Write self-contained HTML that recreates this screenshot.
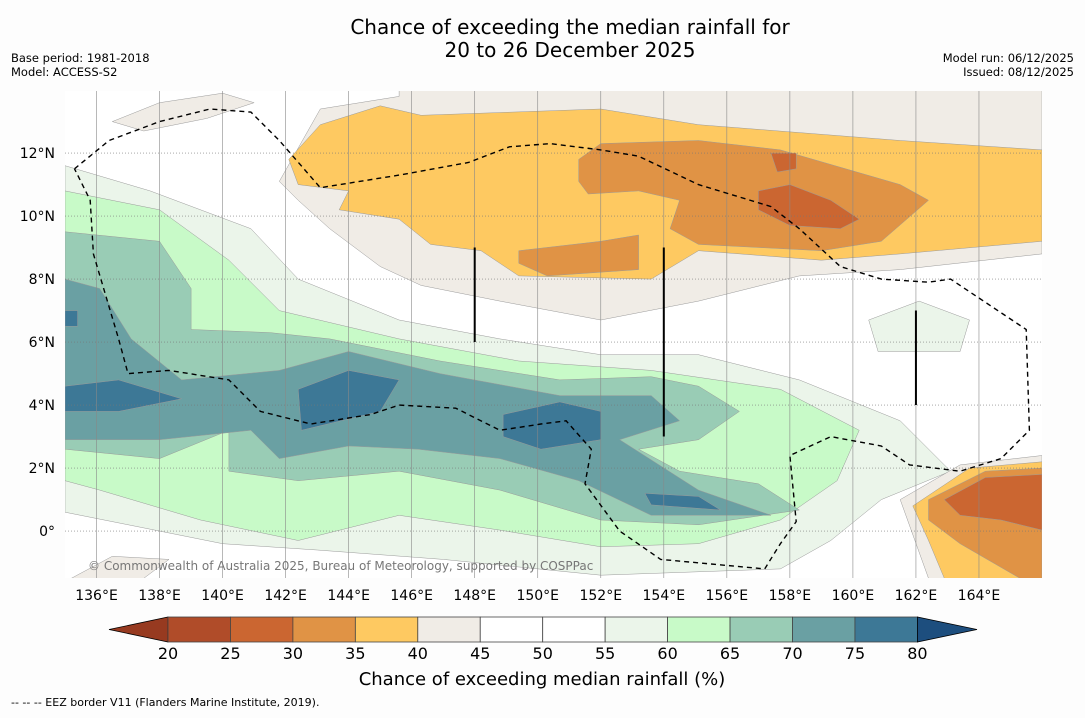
<!DOCTYPE html>
<html><head><meta charset="utf-8">
<style>
html,body{margin:0;padding:0;background:#fdfdfd;}
body{width:1085px;height:713px;overflow:hidden;font-family:"Liberation Sans","DejaVu Sans",sans-serif;}
</style></head>
<body>
<svg id="chart" width="1085" height="713" viewBox="0 0 1085 713" xmlns="http://www.w3.org/2000/svg" font-family="'DejaVu Sans','Liberation Sans',sans-serif">
<text x="570" y="34" font-size="20" text-anchor="middle" fill="#000">Chance of exceeding the median rainfall for</text>
<text x="570" y="57" font-size="20" text-anchor="middle" fill="#000">20 to 26 December 2025</text>
<text x="11" y="62" font-size="11.5">Base period: 1981-2018</text>
<text x="11" y="76" font-size="11.5">Model: ACCESS-S2</text>
<text x="1074" y="62" font-size="11.5" text-anchor="end">Model run: 06/12/2025</text>
<text x="1074" y="76" font-size="11.5" text-anchor="end">Issued: 08/12/2025</text>
<g id="map"></g>
<g id="cbar"></g>
<text x="542" y="685" font-size="18" text-anchor="middle">Chance of exceeding median rainfall (%)</text>
<text x="11" y="706" font-size="11">--  --  -- EEZ border V11 (Flanders Marine Institute, 2019).</text>
</svg>
<script>
const NS="http://www.w3.org/2000/svg";
// colour levels
const levels=[20,25,30,35,40,45,50,55,60,65,70,75,80];
const binColors=["#b04c29","#cb6631","#e09345","#fec961","#f0ece6","#ffffff","#ffffff","#ebf5ea","#c8fac8","#99ccb5","#6aa0a3","#3d7896"];
const lowColor="#973a20", highColor="#1d4e7e";
const lonTicks=[136,138,140,142,144,146,148,150,152,154,156,158,160,162,164];
const latTicks=[0,2,4,6,8,10,12];
// contour regions: [bin index, [[lon,lat],...]]
const regionLevels=[4,4,4,3,2,2,1,1,7,8,9,10,11,11,11,11,11,7,4,3,2,1];
const regionShapes=[
[[141.8,11.1],[143.1,13.4],[145.6,13.8],[145.6,14],[166,14],[166,8.8],[161.5,8.3],[158.3,8.1],[155.1,7.3],[152,6.7],[148.8,7.3],[146.3,7.8],[145,8.4],[143.4,9.6],[142.4,10.5]],
[[136.5,13.0],[138,13.6],[140,13.9],[141,13.6],[139.5,13.1],[137.5,12.7]],
[[135.2,-1.5],[137.5,-1.5],[138.3,-0.9],[136.5,-0.8]],
[[142.4,11.0],[142.1,11.8],[143.1,12.9],[145,13.5],[146.3,13.2],[152,13.4],[155.1,12.9],[161.5,12.4],[166,12.1],[166,9.2],[161.5,8.8],[159,8.6],[155.1,8.9],[153.6,8.0],[149.4,8.1],[148.2,8.9],[146.6,9.1],[145.6,9.9],[143.7,10.2],[144,10.8]],
[[151.3,11.1],[151.3,11.8],[152,12.3],[155.1,12.4],[157.7,12.1],[161.5,11.0],[162.4,10.5],[160.9,9.2],[159,8.9],[155.1,9.1],[154.2,9.6],[154.5,10.5],[153.2,10.8],[151.6,10.7]],
[[149.4,8.9],[152,9.2],[153.2,9.4],[153.2,8.3],[150.3,8.1],[149.4,8.5]],
[[157,10.8],[158,11.0],[159.3,10.5],[160.2,9.9],[159.6,9.6],[158,9.7],[157,10.2]],
[[157.4,12.0],[158.2,12.0],[158.2,11.5],[157.6,11.4]],
[[135,11.6],[137.7,10.8],[140.9,9.6],[142.4,8.0],[145.6,6.7],[148.8,6.1],[152,5.6],[155.1,5.6],[158.3,4.8],[161.5,3.5],[163.1,1.9],[160.9,1.0],[159.3,-0.3],[157.7,-1.2],[152,-1.4],[147,-0.9],[143,-0.6],[140,-0.4],[137.5,0.1],[135,0.6]],
[[135,10.8],[138,10.2],[140.2,8.6],[141.8,7.0],[145.6,6.1],[149.4,5.4],[153.6,5.1],[157.7,4.5],[160.2,3.2],[159.5,1.6],[157.7,0.35],[155.1,-0.4],[152,-0.5],[148.8,0.03],[145.6,0.5],[142.4,-0.3],[139.3,0.35],[136.1,1.3],[135,1.6]],
[[135,9.5],[138,9.2],[139,7.7],[139,6.4],[141.5,6.3],[143.4,6.1],[146.9,5.4],[150.7,4.8],[153.6,4.9],[155.1,4.6],[156.4,3.8],[155.1,2.9],[153.2,2.6],[154.5,1.9],[157,1.5],[158.3,0.67],[155.1,0.2],[152,0.35],[148.8,1.3],[145.6,1.9],[142.4,1.6],[140.2,1.9],[140.2,3.2],[138,2.3],[135,2.6]],
[[135,8.0],[136.1,7.7],[137.1,6.1],[138.7,4.8],[141.8,5.1],[144,5.7],[146.9,5.0],[150.7,4.3],[153.6,4.3],[154.5,3.5],[152.6,2.9],[155.1,1.3],[157.4,0.5],[153.6,0.5],[151.3,1.6],[148.8,2.3],[146.2,2.6],[144,2.7],[141.8,2.3],[140.9,3.2],[138,2.9],[135,2.9]],
[[135,4.6],[136.7,4.8],[138.7,4.2],[136.7,3.8],[135,3.8]],
[[142.4,4.5],[144,5.1],[145.6,4.8],[145,3.8],[142.5,3.2]],
[[148.9,3.7],[150.7,4.1],[152,3.8],[152,2.9],[150.1,2.6],[148.9,3.0]],
[[153.4,1.2],[155.1,1.1],[155.8,0.67],[153.6,0.83]],
[[135,7.0],[135.4,7.0],[135.4,6.5],[135,6.5]],
[[160.5,6.7],[162.1,7.3],[163.7,6.7],[163.4,5.7],[160.8,5.7]],
[[161.5,1.0],[163.4,2.1],[166,2.4],[166,-1.5],[162.4,-1.5]],
[[161.9,0.8],[163.7,2.0],[166,2.2],[166,-1.5],[162.9,-1.5],[162.4,-0.3]],
[[162.4,1.0],[164.2,1.9],[166,2.0],[166,-1.5],[165.3,-1.5],[163.4,-0.4],[162.4,0.35]],
[[162.9,1.0],[164.2,1.7],[166,1.8],[166,0.03],[164.7,0.35],[163.4,0.5]]
];
const eezBorder=[[135.3,11.5],[136.4,12.4],[138,13],[139.6,13.4],[140.9,13.3],[141.8,12.4],[143.1,10.9],[145.6,11.3],[147.8,11.7],[149.1,12.2],[150.4,12.3],[152,12.1],[153.2,11.9],[155.1,11],[157.4,10.3],[158.3,9.6],[159.6,8.4],[160.9,8],[162.4,7.9],[163.1,8],[165.5,6.4],[165.6,3.2],[164.7,2.3],[163.4,1.9],[161.8,2.1],[160.9,2.7],[159.3,3],[158,2.4],[158.2,0.3],[157.7,-0.4],[157.2,-1.2],[153.9,-0.9],[152.6,0],[151.5,1.5],[151.7,2.6],[150.9,3.5],[150.1,3.4],[148.8,3.2],[147.4,3.9],[145.6,4],[144.7,3.7],[142.8,3.4],[141.2,3.8],[140.2,4.8],[138.3,5.1],[137,5],[136.7,6.1],[135.9,8.8],[135.8,10.5],[135.3,11.5]];
const segLons=[148,154,162];
const segTop=[9,9,7];
const segBot=[6,3,4];

const X0=65,X1=1042,Y0=91,Y1=578;
const LON0=135,LON1=166,LAT0=-1.49,LAT1=13.97;
const xs=lon=>X0+(lon-LON0)/(LON1-LON0)*(X1-X0);
const ys=lat=>Y1-(lat-LAT0)/(LAT1-LAT0)*(Y1-Y0);
function mk(tag,attrs,parent){const e=document.createElementNS(NS,tag);for(const k in attrs)e.setAttribute(k,attrs[k]);parent.appendChild(e);return e;}
const map=document.getElementById('map');
const defs=mk('defs',{},map);
const cp=mk('clipPath',{id:'mclip'},defs);
mk('rect',{x:X0,y:Y0,width:X1-X0,height:Y1-Y0},cp);
const bg=mk('rect',{x:X0,y:Y0,width:X1-X0,height:Y1-Y0,fill:'#ffffff'},map);


const g=mk('g',{'clip-path':'url(#mclip)'},map);
regionShapes.forEach((pts,i)=>{
  const d=pts.map(p=>xs(p[0]).toFixed(1)+','+ys(p[1]).toFixed(1)).join(' ');
  const p=mk('polygon',{points:d,fill:binColors[regionLevels[i]],stroke:'#9a9a9a','stroke-width':0.5,'stroke-linejoin':'round'},g);
  
  
});
lonTicks.forEach(lon=>{
  const l=mk('line',{x1:xs(lon),x2:xs(lon),y1:Y0,y2:Y1,stroke:'#888','stroke-width':0.6},g);
  
  
  const t=mk('text',{x:xs(lon),y:600,'font-size':14,'text-anchor':'middle'},map);
  t.textContent=lon+'°E';
  
  
});
latTicks.forEach(lat=>{
  const l=mk('line',{x1:X0,x2:X1,y1:ys(lat),y2:ys(lat),stroke:'#777','stroke-width':0.7,'stroke-dasharray':'1,2'},g);
  
  
  const t=mk('text',{x:55,y:ys(lat)+5,'font-size':14,'text-anchor':'end'},map);
  t.textContent=lat===0?'0°':lat+'°N';
  
  
});
const eez=mk('polyline',{points:eezBorder.map(p=>xs(p[0]).toFixed(1)+','+ys(p[1]).toFixed(1)).join(' '),fill:'none',stroke:'#000','stroke-width':1.4,'stroke-dasharray':'5,4'},g);


segLons.forEach((lon,i)=>{
  const l=mk('line',{x1:xs(lon),x2:xs(lon),y1:ys(segTop[i]),y2:ys(segBot[i]),stroke:'#000','stroke-width':2},g);
  
  
});
const cr=mk('text',{x:88,y:570,'font-size':12,fill:'#777'},map);
cr.textContent='© Commonwealth of Australia 2025, Bureau of Meteorology, supported by COSPPac';



// colorbar
const cb=document.getElementById('cbar');
const CX0=168,CW=62.45,CY=617,CH=25;
const lt=mk('polygon',{points:`${CX0},${CY} ${CX0},${CY+CH} 109,${CY+CH/2}`,fill:lowColor,stroke:'#000','stroke-width':0.8},cb);


binColors.forEach((c,i)=>{
  const r=mk('rect',{x:CX0+i*CW,y:CY,width:CW,height:CH,fill:c,stroke:'#444','stroke-width':0.8},cb);
  
  
});
const xe=CX0+binColors.length*CW;
const ht=mk('polygon',{points:`${xe},${CY} ${xe},${CY+CH} 977,${CY+CH/2}`,fill:highColor,stroke:'#000','stroke-width':0.8},cb);


levels.forEach((v,i)=>{
  const t=mk('text',{x:CX0+i*CW,y:659,'font-size':16,'text-anchor':'middle'},cb);
  t.textContent=v;
  
  
});
</script>
</body></html>
